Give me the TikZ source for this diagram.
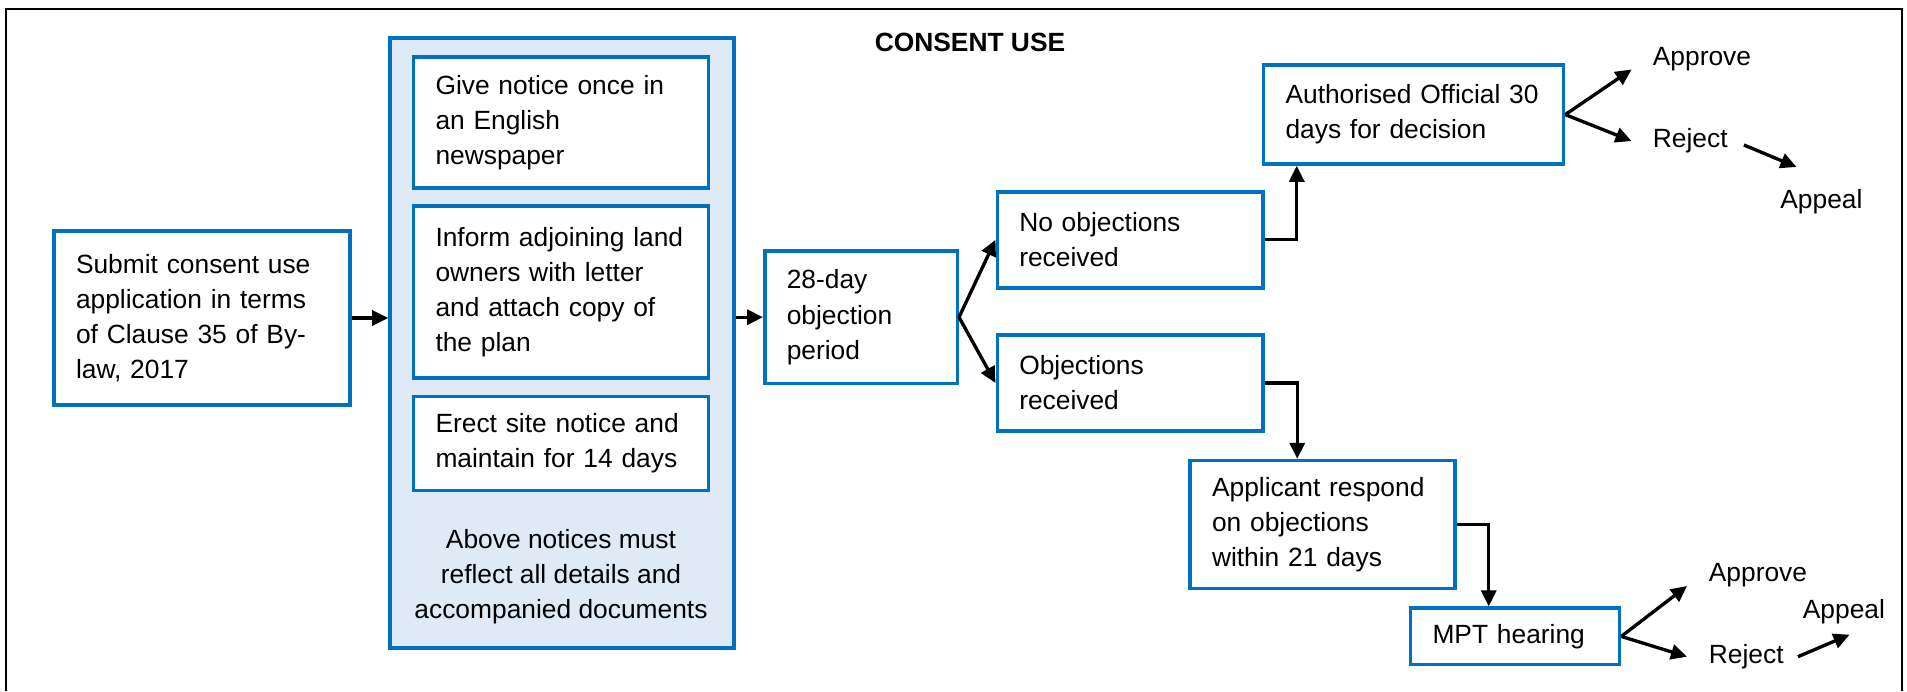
\documentclass[tikz,border=0pt]{standalone}
\usepackage{fontspec}
\setmainfont{Liberation Sans}
\usetikzlibrary{arrows.meta}
\definecolor{cublue}{HTML}{0070C0}
\definecolor{cufill}{HTML}{DEEBF7}
\newcommand{\boxfont}{\fontsize{15}{20}\selectfont}
\begin{document}
\begin{tikzpicture}[
    stepbox/.style={draw=cublue, line width=2pt, fill=white, inner xsep=0.44cm, inner ysep=0pt, align=left, font=\boxfont},
    outcome/.style={anchor=west, inner sep=0pt, font=\boxfont},
    flow/.style={line width=1.9pt, -{Triangle[length=0.32cm,width=0.3cm]}}
  ]
    \useasboundingbox (0,0) rectangle (38.14,13.82);
    \draw[line width=1.5pt] (0.12,0) |- (38.04,13.64) -- (38.04,0);
    \node[font=\boxfont\bfseries] (title) at (19.4,12.98) {CONSENT USE};

    \node[stepbox, text width=5.04cm, minimum height=3.49cm] (submit) at (4.04,7.46)
        {Submit consent use\\application in terms\\of Clause 35 of By-\\law, 2017};
    \node[draw=cublue, fill=cufill, line width=2pt, minimum width=6.88cm, minimum height=12.2cm] (group) at (11.24,6.96) {};
    \node[stepbox, text width=5.02cm, minimum height=2.62cm] (give) at (11.22,11.365)
        {Give notice once in\\an English\\newspaper};
    \node[stepbox, text width=5.02cm, minimum height=3.44cm] (inform) at (11.22,7.98)
        {Inform adjoining land\\owners with letter\\and attach copy of\\the plan};
    \node[stepbox, text width=5.02cm, minimum height=1.876cm] (erect) at (11.22,4.948)
        {Erect site notice and\\maintain for 14 days};
    \node[align=center, font=\boxfont] (above) at (11.22,2.29)
        {Above notices must\\reflect all details and\\accompanied documents};

    \node[stepbox, text width=2.97cm, minimum height=2.65cm] (day) at (17.22,7.476)
        {28-day\\objection\\period};
    \node[stepbox, text width=4.43cm, minimum height=1.92cm] (noobj) at (22.6,9.025)
        {No objections\\received};
    \node[stepbox, text width=4.43cm, minimum height=1.92cm] (obj) at (22.6,6.16)
        {Objections\\received};
    \node[stepbox, text width=5.12cm, minimum height=1.976cm] (auth) at (28.27,11.528)
        {Authorised Official 30\\days for decision};
    \node[stepbox, text width=4.42cm, minimum height=2.556cm] (app) at (26.45,3.33)
        {Applicant respond\\on objections\\within 21 days};
    \node[stepbox, text width=3.3cm, minimum height=1.13cm] (mpt) at (30.3,1.092)
        {MPT hearing};

    \node[outcome] (apprA) at (33.05,12.63) {Approve};
    \node[outcome] (rejA) at (33.05,11.0) {Reject};
    \node[outcome] (appA) at (35.6,9.78) {Appeal};
    \node[outcome] (apprB) at (34.17,2.32) {Approve};
    \node[outcome] (appB) at (36.05,1.586) {Appeal};
    \node[outcome] (rejB) at (34.17,0.686) {Reject};

    \draw[flow] (submit.east) -- (submit.east -| group.west);
    \draw[flow] (group.east |- day.west) -- (day.west);
    \draw[flow] (day.east) -- (noobj.west);
    \draw[flow] (day.east) -- (obj.west);
    \draw[flow] (noobj.east) -| ([xshift=0.7cm]auth.south west);
    \draw[flow] (obj.east) -| ([xshift=2.18cm]app.north west);
    \draw[flow] (app.east) -| ([xshift=1.6cm]mpt.north west);
    \draw[flow] (auth.east) -- ([shift={(-0.42,-0.2)}]apprA.west);
    \draw[flow] (auth.east) -- ([xshift=-0.42cm]rejA.west);
    \draw[flow] ([shift={(0.32,-0.08)}]rejA.east) -- ([shift={(0.33,0.7)}]appA.west);
    \draw[flow] (mpt.east) -- ([shift={(-0.43,-0.22)}]apprB.west);
    \draw[flow] (mpt.east) -- ([xshift=-0.43cm]rejB.west);
    \draw[flow] ([xshift=0.28cm]rejB.east) -- ([shift={(0.94,-0.46)}]appB.west);
\end{tikzpicture}
\end{document}
